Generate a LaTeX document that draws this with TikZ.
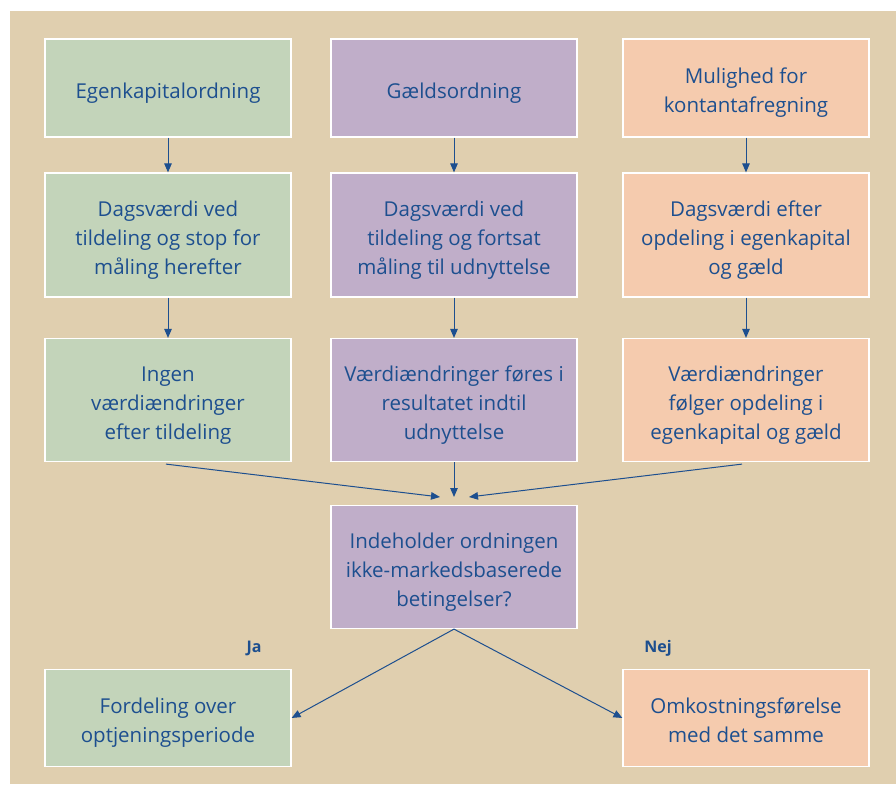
\documentclass[tikz,border=0pt]{standalone}
\usepackage{fontspec}
\setmainfont{Open Sans}
\usetikzlibrary{arrows.meta}
\definecolor{bg}{HTML}{E0CFAF}
\definecolor{grn}{HTML}{C3D4BA}
\definecolor{prp}{HTML}{C0AEC9}
\definecolor{pch}{HTML}{F5CBAE}
\definecolor{txt}{HTML}{1D4F8F}
\newcommand{\bxt}[1]{\raisebox{0pt}[\dimexpr\height+9pt\relax][\depth]{\begin{tabular}{@{}c@{}}#1\end{tabular}}}
\tikzset{
  box/.style={draw=white, line width=1.2pt, minimum width=246pt,
    font=\fontsize{20.5}{29}\selectfont, text=txt, inner sep=0pt},
  gbox/.style={box, fill=grn},
  pbox/.style={box, fill=prp},
  obox/.style={box, fill=pch},
  arr/.style={draw=txt, line width=1pt, -{Triangle[width=7.5pt,length=9pt]}},
  lab/.style={font=\fontsize{16}{18}\selectfont\bfseries, text=txt}
}
\begin{document}
\begin{tikzpicture}[x=1pt,y=-1pt]
\useasboundingbox (0,0) rectangle (896,786);
\fill[bg] (10,11) rectangle (896,784);
% row 1
\node[gbox, minimum height=98pt] (a1) at (168,88) {\bxt{Egenkapitalordning}};
\node[pbox, minimum height=98pt] (b1) at (454,88) {\bxt{Gældsordning}};
\node[obox, minimum height=98pt] (c1) at (746,88) {\bxt{Mulighed for\\kontantafregning}};
% row 2
\node[gbox, minimum height=124pt] (a2) at (168,235) {\bxt{Dagsværdi ved\\tildeling og stop for\\måling herefter}};
\node[pbox, minimum height=124pt] (b2) at (454,235) {\bxt{Dagsværdi ved\\tildeling og fortsat\\måling til udnyttelse}};
\node[obox, minimum height=124pt] (c2) at (746,235) {\bxt{Dagsværdi efter\\opdeling i egenkapital\\og gæld}};
% row 3
\node[gbox, minimum height=123pt] (a3) at (168,400) {\bxt{Ingen\\værdiændringer\\efter tildeling}};
\node[pbox, minimum height=123pt] (b3) at (454,400) {\bxt{Værdiændringer føres i\\resultatet indtil\\udnyttelse}};
\node[obox, minimum height=123pt] (c3) at (746,400) {\bxt{Værdiændringer\\følger opdeling i\\egenkapital og gæld}};
% decision
\node[pbox, minimum height=123pt] (d) at (454,567) {\bxt{Indeholder ordningen\\ikke-markedsbaserede\\betingelser?}};
% bottom
\node[gbox, minimum height=97pt] (e) at (168,718) {\bxt{Fordeling over\\optjeningsperiode}};
\node[obox, minimum height=97pt] (f) at (746,718) {\bxt{Omkostningsførelse\\med det samme}};
% labels
\node[lab] (ja) at (254,648) {Ja};
\node[lab] (nej) at (658,648) {Nej};
% coordinates
\coordinate (ml) at (440,497);
\coordinate (mr) at (469,497);
\coordinate (mm) at (454,497);
% arrows
\draw[arr] (a1.south) -- (a2.north);
\draw[arr] (b1.south) -- (b2.north);
\draw[arr] (c1.south) -- (c2.north);
\draw[arr] (a2.south) -- (a3.north);
\draw[arr] (b2.south) -- (b3.north);
\draw[arr] (c2.south) -- (c3.north);
\draw[arr] (a3.south) ++(-2,2) -- (ml);
\draw[arr] (b3.south) -- (mm);
\draw[arr] (c3.south) ++(-4,2) -- (mr);
\draw[arr] (d.south) -- (e.east);
\draw[arr] (d.south) -- (f.west);
\end{tikzpicture}
\end{document}
